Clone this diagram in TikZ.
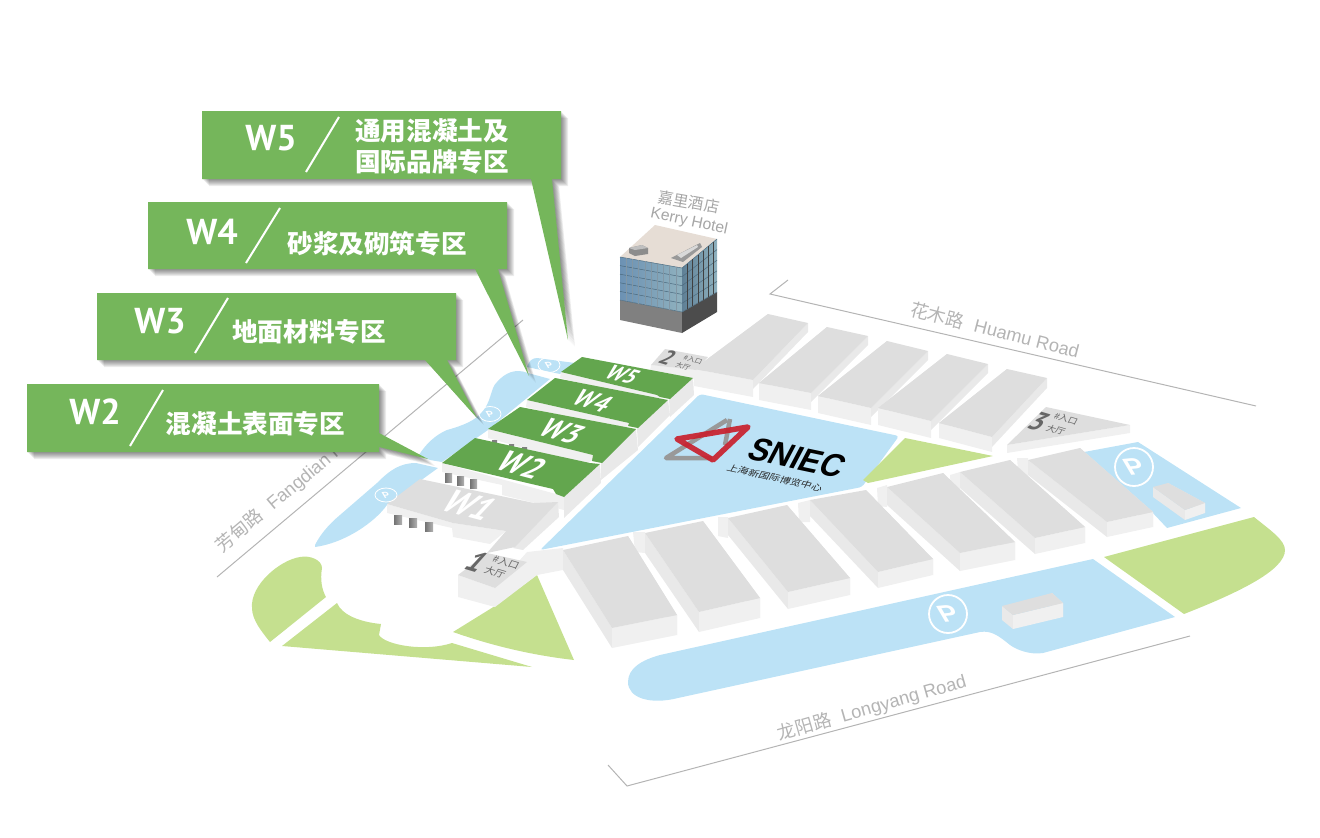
\documentclass[tikz,border=0pt]{standalone}
\usepackage{fontspec}
\setmainfont{Liberation Sans}
\newfontfamily\cjk{Noto Sans CJK SC}
\newfontfamily\din{PT Sans}
\usepackage{tikz}
\usetikzlibrary{calc}
\definecolor{callgreen}{HTML}{75B65B}
\definecolor{halgreen}{HTML}{63A64E}
\definecolor{parkblue}{HTML}{BCE2F6}
\definecolor{lawngreen}{HTML}{C5E08F}
\definecolor{roofgray}{HTML}{DEDEDE}
\definecolor{frontgray}{HTML}{F0F0F0}
\definecolor{sidegray}{HTML}{E9E9E9}
\definecolor{roadgray}{HTML}{B4B4B4}
\definecolor{logored}{HTML}{C8202D}
\definecolor{hotelroof}{HTML}{E6DDD5}
\definecolor{glassdark}{HTML}{6C92B4}
\definecolor{glasslight}{HTML}{D2E8EF}
\definecolor{glassmid}{HTML}{8FB1BE}
\definecolor{glassside}{HTML}{5F8096}
\definecolor{glassgrid}{HTML}{4D6B7F}
\newcommand{\fsz}[1]{\fontsize{#1}{#1}\selectfont}
% roof corners A B C D, front wall height, side wall height
\newcommand{\prism}[6]{
  \fill[sidewall] #1 -- #4 -- ($#4+(0,#6)$) -- ($#1+(0,#6)$) -- cycle;
  \fill[sidewall] #2 -- #3 -- ($#3+(0,#6)$) -- ($#2+(0,#6)$) -- cycle;
  \fill[frontwall] #4 -- #3 -- ($#3+(0,#5)$) -- ($#4+(0,#5)$) -- cycle;
  \fill[hallroof] #1 -- #2 -- #3 -- #4 -- cycle;
}
\newcommand{\callshape}[1]{
  \foreach \d in {1,...,7} \fill[black,opacity=.075,shift={(\d,\d)}] #1;
  \fill[callgreen] #1;
}
\begin{document}
\begin{tikzpicture}[
    x=1pt, y=-1pt,
    every node/.style={inner sep=0pt},
    hallroof/.style={fill=roofgray},
    frontwall/.style={fill=frontgray},
    sidewall/.style={fill=sidegray},
    parkarea/.style={fill=parkblue},
    lawn/.style={fill=lawngreen},
    greenroof/.style={fill=halgreen},
    roadline/.style={draw=roadgray, line width=1pt},
    roadname/.style={text=roadgray, font=\fsz{18.3}},
    calltag/.style={text=white, font=\din\bfseries\fsz{36}},
    calltext/.style={text=white, font=\cjk\bfseries\fsz{25.6}, align=center},
    callslash/.style={draw=white, line width=2pt},
    halltag/.style={text=white, font=\din\bfseries\fsz{#1}, cm={.95,-.25,.8,.85,(0,0)}},
    doornum/.style={text=black!60, font=\din\bfseries\fsz{#1}, cm={1,-.3,.85,.95,(0,0)}},
    doortext/.style={text=black!60, font=\cjk\fsz{#1}, cm={1,-.3,.45,.85,(0,0)}},
    parksign/.style={text=white, font=\bfseries\fsz{#1}, cm={1,.1,-.5,.85,(0,0)}},
    parkring/.style={draw=white, line width=#1},
    pillar/.style={left color=black!55, right color=black!30}
]
\useasboundingbox (0,0) rectangle (1320,838);

% parking areas
\fill[parkarea] (527,367) .. controls (529,361) and (532,358) .. (537,358) -- (575,363) -- (560,374) -- cycle;
\fill[parkarea] (419,455) .. controls (425,445) and (435,435) .. (447,430) .. controls (465,425) and (475,420) .. (480,414)
    .. controls (492,403) and (490,388) .. (497,382) .. controls (505,373) and (515,368) .. (528,373) -- (550,379) -- (488,430) -- (442,462) -- (430,460) -- cycle;
\fill[parkarea] (315,545) .. controls (320,535) and (328,525) .. (340,515) -- (377,483) .. controls (390,470) and (400,463) .. (416,463)
    -- (438,468) -- (387,505) .. controls (375,522) and (345,543) .. (315,547) -- cycle;
\fill[parkarea, rounded corners=3pt] (700,394) -- (899,436) -- (862,487) -- (540,550) -- cycle;
\fill[parkarea] (1084,452) -- (1138,442) -- (1241,508) -- (1167,528) -- (1150,510) -- cycle;
\fill[parkarea] (1093,559) -- (1175,617) -- (1043,653) .. controls (1030,655) and (1017,650) .. (1010,645)
    .. controls (1000,637) and (992,630) .. (980,632) -- (678,698) .. controls (650,705) and (628,698) .. (628,682)
    .. controls (628,668) and (642,660) .. (660,655) -- cycle;

% lawns
\fill[lawn] (905,438) -- (993,456) -- (868,483) -- (863,480) -- cycle;
\fill[lawn] (1104,557) -- (1254,517) .. controls (1270,530) and (1285,540) .. (1285,550) .. controls (1285,570) and (1240,592) .. (1184,614) -- cycle;
\fill[lawn] (270,642) -- (326,597) .. controls (322,590) and (320,580) .. (322,568) .. controls (322,560) and (310,555) .. (300,557)
    .. controls (280,560) and (250,585) .. (252,608) .. controls (252,620) and (262,632) .. (270,642) -- cycle;
\fill[lawn] (282,646) -- (337,603) .. controls (342,615) and (360,622) .. (381,624) -- (379,635)
    .. controls (385,645) and (425,652) .. (452,643) -- (532,667) -- cycle;
\fill[lawn] (453,632) -- (495,606) -- (537,575) -- (574,660) .. controls (530,655) and (490,645) .. (453,632) -- cycle;

% roads
\draw[roadline] (217,577) -- (523,320);
\draw[roadline] (788,280) -- (770,294) -- (1256,406);
\draw[roadline] (608,765) -- (627,786) -- (1190,636);
\node[roadname, rotate=40, anchor=west] (fangdian) at (219,549) {{\cjk 芳甸路}\hspace{.6em}Fangdian Road};
\node[roadname, rotate=-14.5] (huamu) at (995,330) {{\cjk 花木路}\hspace{.6em}Huamu Road};
\node[roadname, rotate=16] (longyang) at (872,708) {{\cjk 龙阳路}\hspace{.6em}Longyang Road};

% hotel
\coordinate (hotelA) at (620,257);
\coordinate (hotelB) at (682,268);
\coordinate (hotelC) at (717,239);
\coordinate (hotelD) at (620,300);
\coordinate (hotelE) at (682,312);
\coordinate (hotelF) at (717,292);
\fill[black!50] (hotelD) -- (hotelE) -- ++(0,21) -- (620,320) -- cycle;
\fill[black!70] (hotelE) -- (hotelF) -- ++(0,20) -- (682,333) -- cycle;
\fill[hotelroof] (655,225) -- (hotelC) -- (hotelB) -- (hotelA) -- cycle;
\shade[left color=glassdark, middle color=glasslight, right color=glassmid] (hotelA) -- (hotelB) -- (hotelE) -- (hotelD) -- cycle;
\shade[left color=glassside, right color=glassmid] (hotelB) -- (hotelC) -- (hotelF) -- (hotelE) -- cycle;
\foreach \t in {0,.2,.4,.6,.8,1} {
  \draw[glassgrid, line width=.5pt] ($(hotelA)!\t!(hotelD)$) -- ($(hotelB)!\t!(hotelE)$) -- ($(hotelC)!\t!(hotelF)$);
}
\foreach \t in {.1,.2,...,.95} {
  \draw[glassgrid!70, line width=.4pt] ($(hotelA)!\t!(hotelB)$) -- ($(hotelD)!\t!(hotelE)$);
}
\foreach \t in {.15,.3,...,.95} {
  \draw[black!75, line width=.5pt] ($(hotelB)!\t!(hotelC)$) -- ($(hotelE)!\t!(hotelF)$);
}
\fill[black!45] (629,248) -- (642,245) -- (648,248) -- (648,254) -- (635,256) -- (629,253) -- cycle;
\fill[black!25] (629,248) -- (642,245) -- (648,248) -- (635,250) -- cycle;
\fill[black!40] (671,258) -- (700,243) -- (702,247) -- (683,262) -- cycle;
\fill[black!15] (677,255) -- (697,245) -- (698,247) -- (681,258) -- cycle;
\node[text=black!35, font=\cjk\fsz{15.5}, rotate=-10] (hotelcn) at (689,202) {嘉里酒店};
\node[text=black!35, font=\fsz{15.7}, rotate=-12] (hotelen) at (689,222) {Kerry Hotel};

% north halls
\prism{(768,314)}{(808,323)}{(753,380)}{(694,369)}{17}{9}
\prism{(827,327)}{(868,336)}{(811,393)}{(759,383)}{17}{9}
\prism{(887,341)}{(928,351)}{(871,408)}{(818,396)}{17}{9}
\prism{(947,354)}{(988,364)}{(931,421)}{(878,408)}{17}{9}
\prism{(1007,369)}{(1047,378)}{(992,437)}{(939,423)}{15}{10}

% entrance 2
\fill[frontwall] (651,365) -- (650,371) -- (695,379) -- (696,370) -- cycle;
\fill[hallroof] (665,349) -- (708,357) -- (696,370) -- (651,365) -- cycle;
\node[doornum=19] (door2) at (668,358) {2};
\node[doortext=7] (door2a) at (693,360) {\#入口};
\node[doortext=7] (door2b) at (683,366.5) {大厅};

% entrance 3
\fill[frontwall] (1007,445) -- (1007,453) -- (1130,433) -- (1130,425) -- cycle;
\fill[hallroof] (1046,407) -- (1130,425) -- (1007,445) -- cycle;
\node[doornum=24] (door3) at (1039,422) {3};
\node[doortext=9] (door3a) at (1066,419) {\#入口};
\node[doortext=9] (door3b) at (1056,430) {大厅};

% exhibition halls W5 to W2
\fill[sidewall] (693,378) -- (694,395) -- (670,417) -- (669,398) -- cycle;
\fill[frontwall] (561,372) -- (560,378) -- (655,402) -- (660,397) -- (657,395) -- cycle;
\fill[greenroof] (582,357) -- (693,378) -- (670,399) -- (660,397) -- (657,395) -- (561,372) -- cycle;
\fill[sidewall] (668,400) -- (670,415) -- (638,447) -- (637,428) -- cycle;
\fill[frontwall] (527,400) -- (526,407) -- (622,431) -- (628,426) -- (629,423) -- cycle;
\fill[greenroof] (555,378) -- (668,400) -- (638,428) -- (628,426) -- (629,423) -- (527,400) -- cycle;
\fill[sidewall] (636,429) -- (638,450) -- (601,480) -- (601,463) -- cycle;
\fill[frontwall] (488,429) -- (488,438) -- (583,465) -- (593,460) -- (593,455) -- cycle;
\fill[black!50] (492,440) rectangle (497,447) (509,444) rectangle (514,450) (522,447) rectangle (527,453);
\fill[greenroof] (520,407) -- (636,429) -- (602,463) -- (592,461) -- (593,455) -- (488,429) -- cycle;
\fill[sidewall] (600,464) -- (601,483) -- (564,518) -- (564,497) -- cycle;
\fill[frontwall] (442,463) -- (442,472) -- (502,485) -- (502,495) -- (564,510) -- (564,497) -- (556,494) -- cycle;
\fill[greenroof] (475,438) -- (590,463) -- (600,464) -- (564,497) -- (556,494) -- (553,489) -- (442,463) -- cycle;
\foreach \px/\py in {445/473, 457/476, 470/479} {
  \fill[pillar] (\px,\py) rectangle (\px+7,\py+9);
}
\node[halltag=21] (w5) at (623,375) {W5};
\node[halltag=24] (w4) at (593,401) {W4};
\node[halltag=27.5] (w3) at (562,431) {W3};
\node[halltag=30] (w2) at (522,465) {W2};

% W1 and entrance 1
\fill[sidewall] (558,502) -- (559,517) -- (523,550) -- (513,548) -- cycle;
\fill[frontwall] (387,504) -- (387,513) -- (452,528) -- (453,537) -- (490,544) -- (506,531) -- (453,523) -- cycle;
\fill[hallroof] (387,504) -- (420,479) -- (534,503) -- (558,502) -- (515,547) -- (487,553) -- (506,531) -- (453,523) -- cycle;
\foreach \px/\py in {394/515, 409/518, 425/522} {
  \fill[pillar] (\px,\py) rectangle (\px+8,\py+9);
}
\node[halltag=33] (w1) at (470,505) {W1};
\fill[frontwall] (495,588) -- (495,607) -- (537,575) -- (563,570) -- (563,548) -- (527,552) -- cycle;
\fill[frontwall] (458,575) -- (458,597) -- (495,607) -- (495,588) -- cycle;
\fill[hallroof] (487,553) -- (527,562) -- (495,588) -- (458,575) -- cycle;
\node[doornum=26] (door1) at (477,562) {1};
\node[doortext=10] (door1a) at (506,562) {\#入口};
\node[doortext=10] (door1b) at (495,572) {大厅};

% south halls
\fill[frontwall] (633,532) -- (645,532) -- (645,553) -- (635,552) -- cycle;
\fill[frontwall] (718,517) -- (728,517) -- (728,538) -- (718,536) -- cycle;
\fill[frontwall] (798,503) -- (810,500) -- (810,522) -- (799,522) -- cycle;
\fill[frontwall] (877,488) -- (887,485) -- (887,507) -- (878,506) -- cycle;
\fill[frontwall] (950,475) -- (960,472) -- (960,493) -- (951,490) -- cycle;
\fill[frontwall] (1017,458) -- (1028,458) -- (1028,477) -- (1018,470) -- cycle;
\prism{(563,550)}{(628,536)}{(677,615)}{(612,628)}{20}{20}
\prism{(645,533)}{(703,521)}{(760,598)}{(699,612)}{20}{20}
\prism{(728,518)}{(787,505)}{(850,578)}{(788,592)}{17}{17}
\prism{(810,500)}{(866,490)}{(933,559)}{(878,572)}{16}{16}
\prism{(887,487)}{(943,473)}{(1015,542)}{(960,553)}{18}{18}
\prism{(960,472)}{(1010,460)}{(1085,527)}{(1035,538)}{16}{16}
\prism{(1028,460)}{(1080,448)}{(1153,512)}{(1107,522)}{15}{15}

% service blocks in the car parks
\prism{(1153,487)}{(1168,483)}{(1205,503)}{(1185,510)}{10}{10}
\prism{(1002,606)}{(1052,593)}{(1063,603)}{(1013,615)}{14}{14}

% parking signs
\draw[parkring=1.8pt] (1134,467) circle (19);
\draw[parkring=1.8pt] (948,614) circle (19);
\node[parksign=27] (parkc) at (1134,467) {P};
\node[parksign=27] (parkd) at (948,614) {P};
\draw[parkring=.8pt] (549,365) ellipse (11 and 7.5);
\draw[parkring=.8pt] (490,414) ellipse (11 and 7.5);
\draw[parkring=.8pt] (386,495) ellipse (11 and 7);
\node[parksign=10] (parka) at (549,365) {P};
\node[parksign=10] (parkb) at (490,414) {P};
\node[parksign=10] (parke) at (386,495) {P};

% logo
\draw[black!40, line width=4.5pt, line join=round] (727,420) -- (666,458) -- (712,458);
\draw[black!40, line width=4.5pt, line join=round] (730,419) -- (725,445);
\draw[logored, line width=5.5pt, line join=round, opacity=.92] (677,439) -- (748,427) -- (713,460) -- cycle;
\node[text=black, font=\bfseries\fsz{32}, cm={.95,-.2,.5,.95,(0,0)}] (sniec) at (797,458) {SNIEC};
\node[text=black!85, font=\cjk\fsz{10.5}, cm={1,-.22,.4,.75,(0,0)}] (snieccn) at (775,478) {上海新国际博览中心};

% callouts
\callshape{(202,111) -- (561,111) -- (561,179) -- (552,179) -- (568,340) -- (531,179) -- (202,179) -- cycle}
\callshape{(148,202) -- (507,202) -- (507,269) -- (498,269) -- (529,376) -- (475,269) -- (148,269) -- cycle}
\callshape{(97,293) -- (456,293) -- (456,360) -- (447,360) -- (477,418) -- (425,360) -- (97,360) -- cycle}
\callshape{(27,384) -- (379,384) -- (379,433) -- (428,459) -- (379,447) -- (379,452) -- (27,452) -- cycle}
\draw[callslash] (339,117) -- (306,172);
\draw[callslash] (280,208) -- (246,263);
\draw[callslash] (228,298) -- (195,353);
\draw[callslash] (163,390) -- (130,446);
\node[calltag] (tag5) at (271,138) {W5};
\node[calltag] (tag4) at (212,232) {W4};
\node[calltag] (tag3) at (160,321) {W3};
\node[calltag] (tag2) at (95,412) {W2};
\node[calltext, text width=170pt] (text5) at (432,146.5) {通用混凝土及\\[5.5pt]国际品牌专区};
\node[calltext] (text4) at (377,244) {砂浆及砌筑专区};
\node[calltext] (text3) at (309,332) {地面材料专区};
\node[calltext] (text2) at (255.5,424) {混凝土表面专区};
\end{tikzpicture}
\end{document}
